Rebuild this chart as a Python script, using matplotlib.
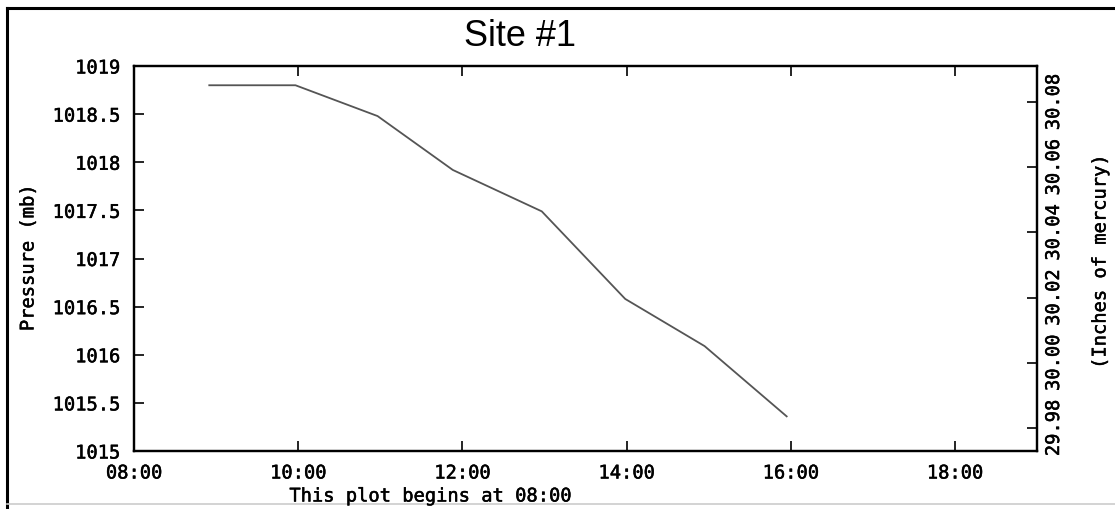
import numpy as np
import matplotlib.pyplot as plt
import matplotlib.patheffects as pe
from matplotlib.lines import Line2D
from matplotlib.ticker import FuncFormatter

# readings (time of day, pressure in mb)
times = ["08:55", "09:58", "10:58", "11:53", "12:58", "13:59", "14:57", "15:57"]
pressure_mb = [1018.8, 1018.8, 1018.48, 1017.92, 1017.49, 1016.58, 1016.09, 1015.36]

x_ticks = [8, 10, 12, 14, 16, 18]
y_ticks = [1015, 1015.5, 1016, 1016.5, 1017, 1017.5, 1018, 1018.5, 1019]
y_labels = ["1015", "1015.5", "1016", "1016.5", "1017", "1017.5", "1018", "1018.5", "1019"]
inhg_ticks = [29.98, 30.00, 30.02, 30.04, 30.06, 30.08]

MB_TO_INHG = 0.02953

hours = [int(t[:2]) + int(t[3:]) / 60 for t in times]

mono = "DejaVu Sans Mono"
tick_font = dict(family=mono, size=13.5, weight="normal")
# a bit heavier than normal, lighter than bold
thick = [pe.withStroke(linewidth=0.35, foreground="black")]

fig = plt.figure(figsize=(11.15, 5.10), dpi=100)
ax = fig.add_axes([0.1202, 0.1137, 0.8099, 0.7549])

ax.plot(hours, pressure_mb, color="#555555", lw=1.3)

ax.set_xlim(8, 19)
ax.set_ylim(1015, 1019)
ax.set_xticks(x_ticks)
ax.xaxis.set_major_formatter(FuncFormatter(lambda v, p: "%02d:00" % int(round(v))))
ax.set_yticks(y_ticks)
ax.set_yticklabels(y_labels)
ax.tick_params(axis="x", direction="in", length=7, width=1.2, top=True, pad=9)
ax.tick_params(axis="y", direction="in", length=7, width=1.2, right=False, pad=10)
for lab in ax.get_xticklabels() + ax.get_yticklabels():
    lab.set_fontproperties(tick_font)
    lab.set_path_effects(thick)
for s in ax.spines.values():
    s.set_linewidth(1.6)

ax2 = ax.twinx()
ax2.set_ylim(1015 * MB_TO_INHG, 1019 * MB_TO_INHG)
ax2.set_yticks(inhg_ticks)
ax2.set_yticklabels(["%.2f" % v for v in inhg_ticks], rotation=90, va="center")
ax2.tick_params(axis="y", direction="in", length=7, width=1.2, pad=5)
for lab in ax2.get_yticklabels():
    lab.set_fontproperties(tick_font)
    lab.set_path_effects(thick)
for s in ax2.spines.values():
    s.set_linewidth(1.6)

fig.text(520 / 1115, 1 - 36 / 510, "Site #1", family="Liberation Sans",
         fontsize=26, ha="center", va="center")
fig.text(28 / 1115, 1 - 259 / 510, "Pressure (mb)", rotation=90,
         ha="center", va="center", path_effects=thick, **tick_font)
fig.text(1100 / 1115, 1 - 263 / 510, "(Inches of mercury)", rotation=90,
         ha="center", va="center", path_effects=thick, **tick_font)
fig.text(430 / 1115, 1 - 497 / 510, "This plot begins at 08:00",
         ha="center", va="center", path_effects=thick, **tick_font)

# outer frame of the scanned page
fig.add_artist(Line2D([7 / 1115, 7 / 1115], [0, 1 - 9 / 510], color="black", lw=2.2,
                      transform=fig.transFigure))
fig.add_artist(Line2D([7 / 1115, 1], [1 - 9 / 510, 1 - 9 / 510], color="black", lw=2.2,
                      transform=fig.transFigure))
fig.add_artist(Line2D([7 / 1115, 1], [1 - 505 / 510, 1 - 505 / 510], color="#cccccc", lw=1.2,
                      transform=fig.transFigure))

fig.savefig("out.png", dpi=100)
